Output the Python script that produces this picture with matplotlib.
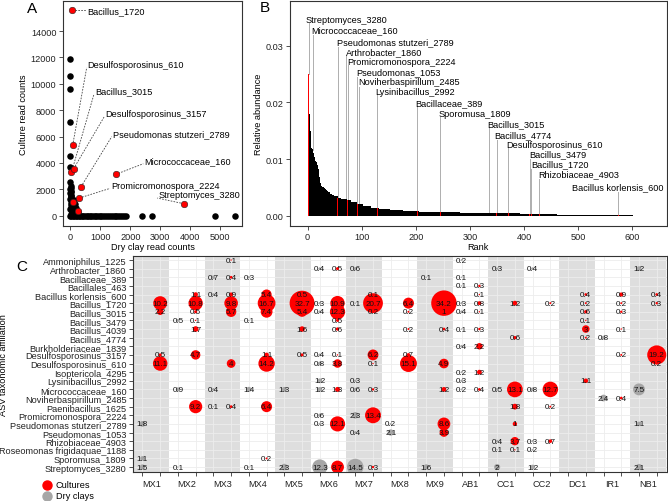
import numpy as np
import matplotlib
matplotlib.use("Agg")
import matplotlib.pyplot as plt
from matplotlib.lines import Line2D
from matplotlib.ticker import FormatStrFormatter

plt.rcParams['font.family'] = ['Liberation Sans', 'DejaVu Sans']

# ---------------- panel A data (read counts) ----------------
blk_dry = [0, 0, 0, 0, 0, 0, 0, 10, 20, 5, 30, 15, 0, 40, 10, 25, 0, 35, 50, 20,
           60, 10, 80, 30, 5, 45, 70, 100, 15, 55, 120, 150, 200, 250, 180, 90,
           0, 40, 90, 140, 190, 240, 290, 340, 390, 440, 500, 550, 600, 650, 700,
           760, 810, 860, 920, 980, 1040, 1100, 1150, 1220, 1290, 1350, 1420,
           1480, 1540, 1600, 1660, 1720, 1790, 1850, 2380, 2730, 4833, 5480]
blk_cult = [11860, 10600, 9590, 7120, 4500, 3670, 2560, 2250, 2100, 2000, 1900,
            1800, 1700, 1600, 1500, 1400, 1300, 1200, 1100, 1000, 900, 800, 700,
            600, 500, 400, 300, 200, 150, 100, 1200, 900, 600, 300, 450, 60,
            0, 0, 0, 0, 0, 0, 0, 0, 0, 0, 0, 0, 0, 0, 0,
            0, 0, 0, 0, 0, 0, 0, 0, 0, 0, 0, 0,
            0, 0, 0, 0, 0, 0, 0, 0, 0, 0, 0]
red_names = ["Bacillus_1720", "Desulfosporosinus_610", "Bacillus_3015",
             "Desulfosporosinus_3157", "Pseudomonas stutzeri_2789",
             "Micrococcaceae_160", "Promicromonospora_2224", "Streptomyces_3280"]
red_dry = [67, 80, 40, 110, 357, 1513, 300, 3780, 90, 247]
red_cult = [15567, 5350, 3290, 3560, 2195, 3130, 1340, 910, 1050, 356]
lab_pos_A = [(523, 15567), (547, 11480), (790, 9470), (1133, 7760), (1380, 6240),
             (2433, 4190), (1323, 2320), (2900, 1590)]

# ---------------- panel B data (rank abundance of dry clays) ----------------
top_abund = [0.0362, 0.0250, 0.0215, 0.0180, 0.0150, 0.0125, 0.0120, 0.0118,
             0.0117, 0.0116, 0.0110, 0.0106, 0.0104, 0.0100, 0.0097, 0.0095,
             0.0092, 0.0090, 0.0087, 0.0082, 0.0075, 0.0068, 0.0062, 0.0058,
             0.0055, 0.0053, 0.0052, 0.0051, 0.0050, 0.0049, 0.0048, 0.0047,
             0.0047, 0.0046, 0.0046, 0.0045, 0.0044, 0.0043, 0.0042, 0.0041,
             0.0040, 0.0039, 0.0038, 0.0038, 0.0037, 0.0037, 0.0036, 0.0036,
             0.0036, 0.0035]
tail_levels = [0.0034, 0.0032, 0.0030, 0.0028, 0.0025, 0.0021, 0.0017, 0.0014,
               0.0012, 0.0010, 0.0008, 0.0007, 0.0006, 0.0005, 0.0004, 0.0003,
               0.0002, 0.0001]
tail_counts = [5, 7, 10, 8, 10, 12, 14, 15, 20, 25, 30, 35, 40, 50, 60, 70, 80, 59]
hl_names = ["Streptomyces_3280", "Micrococcaceae_160", "Pseudomonas stutzeri_2789",
            "Arthrobacter_1860", "Promicromonospora_2224", "Pseudomonas_1053",
            "Noviherbaspirillum_2485", "Lysinibacillus_2992", "Bacillaceae_389",
            "Sporomusa_1809", "Bacillus_3015", "Bacillus_4774",
            "Desulfosporosinus_610", "Bacillus_3479", "Bacillus_1720",
            "Rhizobiaceae_4903", "Bacillus korlensis_600"]
hl_ranks = [2, 10, 56, 71, 74, 92, 95, 129, 203, 245, 335, 349, 371, 410, 413, 428, 574]
hl_lab_y = [0.0346, 0.0328, 0.0307, 0.0289, 0.0272, 0.0254, 0.0236, 0.0219, 0.0200,
            0.0181, 0.0162, 0.0142, 0.0126, 0.0109, 0.0091, 0.0074, 0.0051]
hl_lab_x = [-2, 7.5, 55, 71, 74, 90.5, 94.5, 126, 200, 243, 333, 346, 368, 410,
            415, 428, 490]

# ---------------- panel C data (% of reads per sample) ----------------
taxa = ["Ammoniphilus_1225", "Arthrobacter_1860", "Bacillaceae_389", "Bacillales_463",
        "Bacillus korlensis_600", "Bacillus_1720", "Bacillus_3015", "Bacillus_3479",
        "Bacillus_4039", "Bacillus_4774", "Burkholderiaceae_1839",
        "Desulfosporosinus_3157", "Desulfosporosinus_610", "Isoptericola_4295",
        "Lysinibacillus_2992", "Micrococcaceae_160", "Noviherbaspirillum_2485",
        "Paenibacillus_1625", "Promicromonospora_2224", "Pseudomonas stutzeri_2789",
        "Pseudomonas_1053", "Rhizobiaceae_4903", "Roseomonas frigidaquae_1188",
        "Sporomusa_1809", "Streptomyces_3280"]
sites = ["MX1", "MX2", "MX3", "MX4", "MX5", "MX6", "MX7", "MX8", "MX9",
         "AB1", "CC1", "CC2", "DC1", "IR1", "NB1"]

culture_pct = {
    "Ammoniphilus_1225": {"MX3": 0.1},
    "Arthrobacter_1860": {"MX6": 0.5},
    "Bacillaceae_389": {"MX3": 0.4},
    "Bacillales_463": {"AB1": 0.3},
    "Bacillus korlensis_600": {"MX2": 1.1, "MX3": 0.9, "MX4": 5.4, "MX5": 0.5, "MX7": 0.1,
                               "AB1": 0.1, "DC1": 0.4, "IR1": 0.9, "NB1": 0.4},
    "Bacillus_1720": {"MX1": 10.2, "MX2": 10.8, "MX3": 9.8, "MX4": 16.7, "MX5": 32.7,
                      "MX6": 10.9, "MX7": 20.7, "MX8": 6.4, "MX9": 34.2, "AB1": 0.8,
                      "CC1": 1.2, "CC2": 0.2, "DC1": 0.2, "IR1": 0.2, "NB1": 0.3},
    "Bacillus_3015": {"MX1": 2.2, "MX2": 0.5, "MX3": 5.7, "MX4": 7.4, "MX5": 5.4,
                      "MX6": 12.3, "MX7": 0.2, "MX8": 0.2, "MX9": 1, "AB1": 0.1,
                      "DC1": 0.6, "IR1": 0.3},
    "Bacillus_3479": {"MX2": 0.1, "MX6": 0.5, "DC1": 0.1},
    "Bacillus_4039": {"MX2": 1.7, "MX5": 1.6, "MX6": 0.6, "MX8": 0.2, "MX9": 0.4,
                      "AB1": 0.3, "DC1": 3, "IR1": 0.1},
    "Bacillus_4774": {"CC1": 0.6, "DC1": 0.2},
    "Burkholderiaceae_1839": {"AB1": 2.2},
    "Desulfosporosinus_3157": {"MX1": 0.5, "MX2": 4.7, "MX4": 1.1, "MX5": 0.5, "MX6": 0.1,
                               "MX7": 6.2, "MX8": 0.7, "IR1": 0.2, "NB1": 19.2},
    "Desulfosporosinus_610": {"MX1": 11.1, "MX3": 4, "MX4": 14.2, "MX6": 3.8, "MX7": 0.1,
                              "MX8": 15.1, "MX9": 4.9, "NB1": 0.2},
    "Isoptericola_4295": {"AB1": 1.2},
    "Lysinibacillus_2992": {"DC1": 1.1},
    "Micrococcaceae_160": {"MX6": 1.3, "MX7": 0.3, "MX9": 1.2, "AB1": 0.4, "CC1": 13.1,
                           "CC2": 12.7},
    "Noviherbaspirillum_2485": {"IR1": 0.4},
    "Paenibacillus_1625": {"MX2": 9.2, "MX3": 0.4, "MX4": 6.4, "CC1": 1.8, "CC2": 0.2},
    "Promicromonospora_2224": {"MX7": 13.4},
    "Pseudomonas stutzeri_2789": {"MX6": 12.1, "MX9": 8.6, "CC1": 1},
    "Pseudomonas_1053": {"MX9": 3.9},
    "Rhizobiaceae_4903": {"CC1": 3.7, "CC2": 0.7},
    "Roseomonas frigidaquae_1188": {"CC1": 0.1},
    "Sporomusa_1809": {"MX4": 0.2},
    "Streptomyces_3280": {"MX6": 8.7, "MX7": 0.3},
}
dry_pct = {
    "Ammoniphilus_1225": {"AB1": 0.2},
    "Arthrobacter_1860": {"MX6": 0.4, "MX7": 0.6, "CC1": 0.3, "CC2": 0.4, "NB1": 1.2},
    "Bacillaceae_389": {"MX3": 0.7, "MX4": 0.3, "MX9": 0.1, "AB1": 0.1},
    "Bacillales_463": {"AB1": 0.1},
    "Bacillus korlensis_600": {"MX3": 0.4},
    "Bacillus_1720": {"MX6": 0.3, "MX7": 0.1, "AB1": 0.3},
    "Bacillus_3015": {"MX6": 0.4, "AB1": 0.4},
    "Bacillus_3479": {"MX2": 0.5, "MX4": 0.1},
    "Bacillus_4039": {"AB1": 0.1},
    "Bacillus_4774": {"IR1": 0.8},
    "Burkholderiaceae_1839": {"AB1": 0.4},
    "Desulfosporosinus_3157": {"MX6": 0.4},
    "Desulfosporosinus_610": {"MX6": 0.8},
    "Isoptericola_4295": {"AB1": 0.2},
    "Lysinibacillus_2992": {"MX6": 1.2, "MX7": 0.3, "AB1": 0.3},
    "Micrococcaceae_160": {"MX2": 0.9, "MX3": 0.4, "MX4": 1.4, "MX5": 1.3, "MX6": 1.2,
                           "MX7": 0.6, "AB1": 0.2, "CC1": 0.5, "CC2": 0.8, "NB1": 7.5},
    "Noviherbaspirillum_2485": {"IR1": 2.4},
    "Paenibacillus_1625": {"MX3": 0.1},
    "Promicromonospora_2224": {"MX6": 0.6, "MX7": 2.3},
    "Pseudomonas stutzeri_2789": {"MX1": 1.8, "MX6": 0.3, "MX8": 0.2, "NB1": 1.1},
    "Pseudomonas_1053": {"MX7": 0.4, "MX8": 2.1},
    "Rhizobiaceae_4903": {"CC1": 0.4, "CC2": 0.3},
    "Roseomonas frigidaquae_1188": {"CC1": 0.1, "CC2": 0.2},
    "Sporomusa_1809": {"MX1": 1.1},
    "Streptomyces_3280": {"MX1": 1.5, "MX2": 0.1, "MX4": 0.1, "MX5": 2.3, "MX6": 12.3,
                          "MX7": 14.5, "MX9": 1.6, "CC1": 2, "CC2": 1.2, "NB1": 2.1},
}

# ---------------- figure ----------------
W, H = 668, 502
fig = plt.figure(figsize=(W / 100, H / 100), dpi=100)


def add_ax(l, t, r, b):
    return fig.add_axes([l / W, 1 - b / H, (r - l) / W, (b - t) / H])


TXT = 6.6
tick_kw = dict(length=3, width=0.6, color='#333333', labelsize=TXT, pad=1.5,
               labelcolor='#222222')

# ---- A ----
axA = add_ax(62.7, 2, 242.3, 226.7)
axA.scatter(blk_dry, blk_cult, s=22, c='black', lw=0, zorder=2)
axA.scatter(red_dry, red_cult, s=22, c='red', edgecolors='#222222', lw=0.4, zorder=3)
for name, px, py, (lx, ly) in zip(red_names, red_dry, red_cult, lab_pos_A):
    end_y = ly if abs(ly - py) < 100 else ly - 250
    axA.plot([px, lx], [py, end_y], ls=(0, (2, 1.5)), color='#444444', lw=0.6, zorder=1)
    axA.text(lx + 30, ly, name, fontsize=TXT, ha='left', va='center')
axA.set_xlim(-253, 5733)
axA.set_ylim(-757, 16275)
axA.set_xticks([0, 1000, 2000, 3000, 4000, 5000])
axA.set_yticks([0, 2000, 4000, 6000, 8000, 10000, 12000, 14000])
axA.set_xlabel("Dry clay read counts", fontsize=TXT, labelpad=1)
axA.set_ylabel("Culture read counts", fontsize=TXT, labelpad=2)
axA.tick_params(**tick_kw)

# ---- B ----
abund = np.array(top_abund + list(np.repeat(tail_levels, tail_counts)))
ranks = np.arange(1, len(abund) + 1)
axB = add_ax(290, 2, 666.5, 226.7)
axB.bar(ranks, abund, width=1.0, color='black', lw=0, zorder=2)
hr = np.array(hl_ranks)
axB.bar(hr, abund[hr - 1], width=1.6, color='red', lw=0, zorder=3)
for name, r, ly, lx in zip(hl_names, hl_ranks, hl_lab_y, hl_lab_x):
    axB.plot([r, r], [abund[r - 1], ly - 0.0007], ls=(0, (1.2, 1.2)), color='#444444',
             lw=0.6, zorder=1)
    axB.text(lx - 1, ly, name, fontsize=TXT, ha='left', va='center')
axB.set_xlim(-32.5, 663)
axB.set_ylim(-0.00176, 0.03786)
axB.set_xticks([0, 100, 200, 300, 400, 500, 600])
axB.set_yticks([0.0, 0.01, 0.02, 0.03])
axB.yaxis.set_major_formatter(FormatStrFormatter('%.2f'))
axB.set_xlabel("Rank", fontsize=TXT, labelpad=1)
axB.set_ylabel("Relative abundance", fontsize=TXT, labelpad=2)
axB.tick_params(**tick_kw)

# ---- C ----
axC = add_ax(132.7, 256.7, 666.5, 473.3)
axC.set_axisbelow(True)
for g in range(0, len(sites), 2):
    axC.axvspan(2 * g - 0.5, 2 * g + 1.5, color='#DEDEDE', lw=0, zorder=0.1)
row_of = {t: i for i, t in enumerate(taxa)}
site_of = {s: i for i, s in enumerate(sites)}


def points(table, offset):
    xs, ys, vs = [], [], []
    for t, d in table.items():
        for s, v in d.items():
            xs.append(2 * site_of[s] + offset)
            ys.append(row_of[t])
            vs.append(v)
    return xs, ys, vs


dx, dy, dv = points(dry_pct, 0)
cx, cy, cv = points(culture_pct, 1)
axC.scatter(dx, dy, s=np.array(dv) * 9.8, c='#A6A6A6', lw=0, zorder=3)
axC.scatter(cx, cy, s=np.array(cv) * 9.8, c='red', lw=0, zorder=3)
for x, y, v in zip(dx + cx, dy + cy, dv + cv):
    axC.text(x, y, f"{v:g}", fontsize=5.8, ha='center', va='center', zorder=4,
             color='#111111')
axC.set_xlim(-0.55, 2 * len(sites) - 0.45)
axC.set_ylim(len(taxa) - 0.39, -0.5)
axC.set_yticks(range(len(taxa)))
axC.set_yticklabels(taxa)
axC.set_xticks(range(2 * len(sites)))
axC.set_xticklabels([])
axC.set_xticks([2 * i + 0.5 for i in range(len(sites))], minor=True)
axC.set_xticklabels(sites, minor=True)
axC.tick_params(axis='x', which='minor', length=0, labelsize=TXT, pad=4.5,
                labelcolor='#222222')
axC.tick_params(axis='both', which='major', **tick_kw)
axC.grid(True, which='major', color='#EDEDED', lw=0.6)
axC.set_ylabel("ASV taxonomic affiliation", fontsize=TXT)
axC.yaxis.set_label_coords(-124.7 / 533.8, 0.5)

for ax in (axA, axB, axC):
    for sp in ax.spines.values():
        sp.set_color('#333333')
        sp.set_linewidth(0.8)

# legend
for yy, col, lab in [(486, 'red', 'Cultures'), (497, '#A6A6A6', 'Dry clays')]:
    fig.add_artist(Line2D([47 / W], [1 - yy / H], marker='o', ms=6.5, color=col,
                          ls='none', transform=fig.transFigure))
    fig.text(56 / W, 1 - yy / H, lab, fontsize=TXT, va='center', ha='left')

# panel letters
fig.text(32.5 / W, 1 - 9 / H, "A", fontsize=11, ha='center', va='center')
fig.text(265 / W, 1 - 8.5 / H, "B", fontsize=11, ha='center', va='center')
fig.text(21.5 / W, 1 - 267 / H, "C", fontsize=11, ha='center', va='center')

fig.savefig("out.png", dpi=100)
